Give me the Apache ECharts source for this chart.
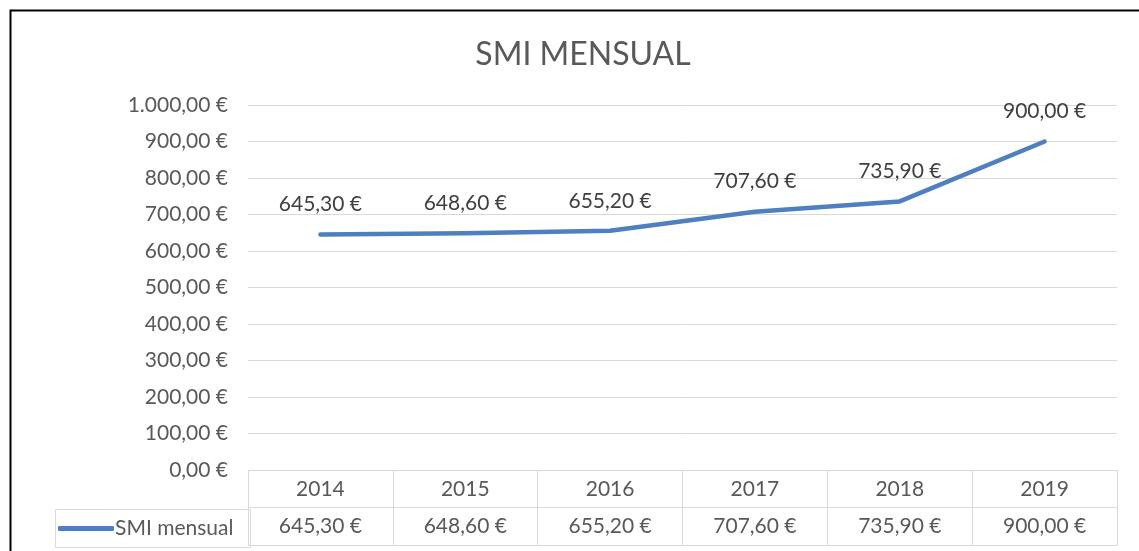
<!doctype html>
<html lang="es">
  <head>
    <meta charset="UTF-8" />
    <title>SMI mensual</title>
    <script src="https://fastly.jsdelivr.net/npm/echarts@6/dist/echarts.min.js"></script>
    <style type="text/css">
      * {
        margin: 0;
        padding: 0;
      }
      html,
      body,
      #chart {
        width: 100%;
        height: 100%;
        overflow: hidden;
        background: #fff;
      }
    </style>
  </head>
  <body>
    <div id="chart"></div>
  </body>
  <script>
    const years = ['2014', '2015', '2016', '2017', '2018', '2019'];
    const smiMensual = [645.3, 648.6, 655.2, 707.6, 735.9, 900.0];
    const yTicks = { min: 0, max: 1000, interval: 100 };

    const font = 'Lato, "Open Sans", sans-serif';
    const grey = '#595959';
    const lineGrey = '#d9d9d9';
    const blue = '#4e7fc0';

    // 1234.5 -> "1.234,50 €"
    function euro(v) {
      const parts = Number(v).toFixed(2).split('.');
      const int = parts[0].replace(/\B(?=(\d{3})+(?!\d))/g, '.');
      return int + ',' + parts[1] + ' €';
    }

    const option = {
      animation: false,
      title: {
        text: 'SMI MENSUAL',
        left: 578,
        top: 34,
        textAlign: 'center',
        textStyle: { fontFamily: font, fontSize: 32, fontWeight: 'normal', color: grey },
      },
      legend: {
        left: 53,
        top: 513,
        icon: 'roundRect',
        itemWidth: 56,
        itemHeight: 5,
        itemGap: 4,
        textStyle: { fontFamily: font, fontSize: 21, color: grey, padding: [0, 0, 0, -4] },
        data: ['SMI mensual'],
      },
      grid: { left: 248, right: 22, top: 105, bottom: 81 },
      xAxis: [
        {
          type: 'category',
          data: years,
          position: 'bottom',
          boundaryGap: true,
          axisLine: { lineStyle: { color: lineGrey } },
          axisTick: { show: true, interval: 0, length: 75, lineStyle: { color: lineGrey } },
          axisLabel: { margin: 9, fontFamily: font, fontSize: 21, color: grey },
        },
        {
          type: 'category',
          data: smiMensual.map(euro),
          position: 'bottom',
          offset: 37,
          axisLine: { lineStyle: { color: lineGrey } },
          axisTick: { show: false },
          axisLabel: { margin: 9, interval: 0, fontFamily: font, fontSize: 21, color: grey },
        },
        {
          type: 'category',
          data: years,
          position: 'bottom',
          offset: 75,
          axisLine: { lineStyle: { color: lineGrey } },
          axisTick: { show: false },
          axisLabel: { show: false },
        },
      ],
      yAxis: {
        type: 'value',
        min: yTicks.min,
        max: yTicks.max,
        interval: yTicks.interval,
        axisLine: { show: false },
        axisTick: { show: false },
        splitLine: { lineStyle: { color: lineGrey } },
        axisLabel: { margin: 20, fontFamily: font, fontSize: 21, color: grey, formatter: euro },
      },
      series: [
        {
          name: 'SMI mensual',
          type: 'line',
          data: smiMensual,
          showSymbol: true,
          symbol: 'circle',
          symbolSize: 3,
          color: blue,
          itemStyle: { color: blue },
          lineStyle: { width: 4.5, cap: 'round', join: 'round' },
          label: {
            show: true,
            position: 'top',
            distance: 18,
            fontFamily: font,
            fontSize: 21,
            color: '#404040',
            formatter: (p) => euro(p.value),
          },
        },
      ],
      graphic: [
        {
          type: 'rect',
          left: 8,
          top: 8,
          shape: { width: 1200, height: 600 },
          style: { fill: 'none', stroke: '#000', lineWidth: 2 },
        },
        {
          type: 'rect',
          left: 53,
          top: 507,
          shape: { width: 195, height: 38 },
          style: { fill: 'none', stroke: lineGrey, lineWidth: 1 },
          z: -1,
        },
      ],
    };

    const chart = echarts.init(document.getElementById('chart'));
    chart.setOption(option);
  </script>
</html>
